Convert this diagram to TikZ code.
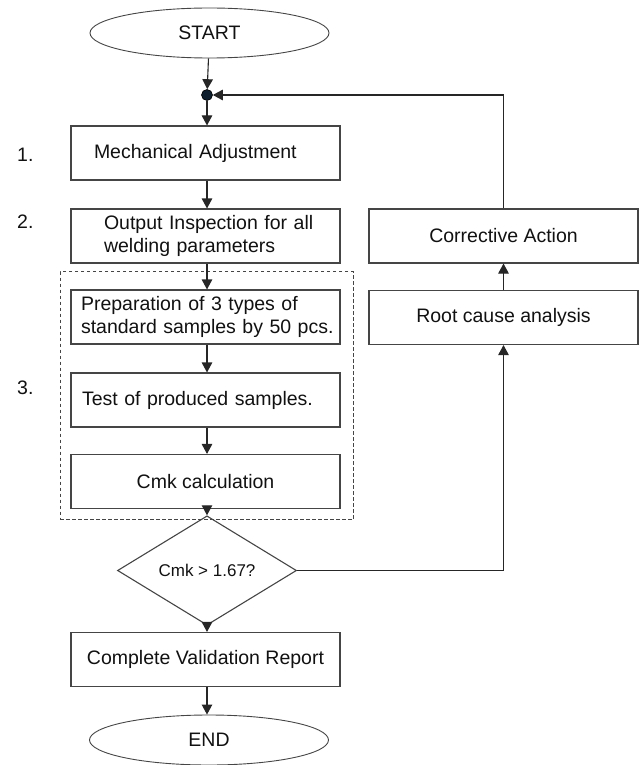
\documentclass[tikz,border=0pt]{standalone}
\usepackage{fontspec}
\setmainfont{Liberation Sans}
\usetikzlibrary{arrows.meta,shapes.geometric}

\definecolor{linegray}{HTML}{454545}
\definecolor{inkgray}{HTML}{111111}
\definecolor{dotnavy}{HTML}{0F1E2C}

\tikzset{
  txt/.style={font=\fontsize{19.5}{22.5}\selectfont, text=inkgray},
  stepbox/.style={txt, draw=linegray, line width=1.1pt, rectangle,
    minimum width=269pt, minimum height=54pt, inner ysep=0pt},
  leftpad/.style 2 args={align=left, inner xsep=#1, text width=#2},
  terminal/.style={txt, draw=linegray, line width=0.9pt, ellipse,
    minimum width=239pt, minimum height=50pt, inner sep=0pt},
  decision/.style={draw=linegray, line width=1.1pt, diamond,
    minimum width=179pt, minimum height=69pt, inner sep=0pt,
    font=\fontsize{17}{20}\selectfont, text=inkgray},
  numlabel/.style={txt, anchor=west, inner sep=0pt},
  flow/.style={draw=black!85, line width=1.1pt,
    -{Triangle[length=10pt,width=10.5pt]}},
  groupframe/.style={draw=linegray, line width=0.8pt,
    dash pattern=on 3.5pt off 2.5pt, rectangle,
    minimum width=293pt, minimum height=248pt, inner sep=0pt}
}

\begin{document}
\begin{tikzpicture}[x=1pt, y=-1pt]
  \useasboundingbox (0,0) rectangle (643,765);

  % group frame around step 3
  \node[groupframe] (grp) at (206.5,395.5) {};

  % main column
  \node[terminal] (start) at (209.5,33) {START};
  \node[circle, fill=dotnavy, draw=black, line width=0.6pt,
        minimum size=11pt, inner sep=0pt] (join) at (207,95) {};
  \node[stepbox, leftpad={23pt}{223pt}] (mech) at (205.5,153)
        {Mechanical Adjustment};
  \node[stepbox, leftpad={33pt}{203pt}] (insp) at (205.5,236)
        {\mbox{Output Inspection for all}\\\mbox{welding parameters}};
  \node[stepbox, leftpad={10pt}{249pt}] (prep) at (205.5,317)
        {\mbox{Preparation of 3 types of}\\\mbox{standard samples by 50 pcs.}};
  \node[stepbox, leftpad={11pt}{247pt}] (test) at (205.5,400)
        {Test of produced samples.};
  \node[stepbox] (cmk) at (205.5,481.5) {Cmk calculation};
  \node[decision] (check) at (207,570.5) {Cmk > 1.67?};
  \node[stepbox] (report) at (205.5,659.5) {Complete Validation Report};
  \node[terminal] (finish) at (209,740) {END};

  % corrective loop column
  \node[stepbox] (action) at (503.5,236) {Corrective Action};
  \node[stepbox] (cause) at (503.5,317.5) {Root cause analysis};

  % step numbers
  \node[numlabel] (n1) at (17,155) {1.};
  \node[numlabel] (n2) at (17,222) {2.};
  \node[numlabel] (n3) at (17,388) {3.};

  % connectors
  \draw[flow] (start) -- (join);
  \draw[flow] (join) -- (join |- mech.north);
  \draw[flow] (join |- mech.south) -- (join |- insp.north);
  \draw[flow] (join |- insp.south) -- (join |- prep.north);
  \draw[flow] (join |- prep.south) -- (join |- test.north);
  \draw[flow] (join |- test.south) -- (join |- cmk.north);
  \draw[flow] (join |- cmk.south) -- (check.north);
  \draw[flow] (check.south) -- (join |- report.north);
  \draw[flow] (join |- report.south) -- (join |- finish.north);
  \draw[flow] (check.east) -| (cause.south);
  \draw[flow] (cause.north) -- (action.south);
  \draw[flow] (action.north) |- (join.east);
\end{tikzpicture}
\end{document}
